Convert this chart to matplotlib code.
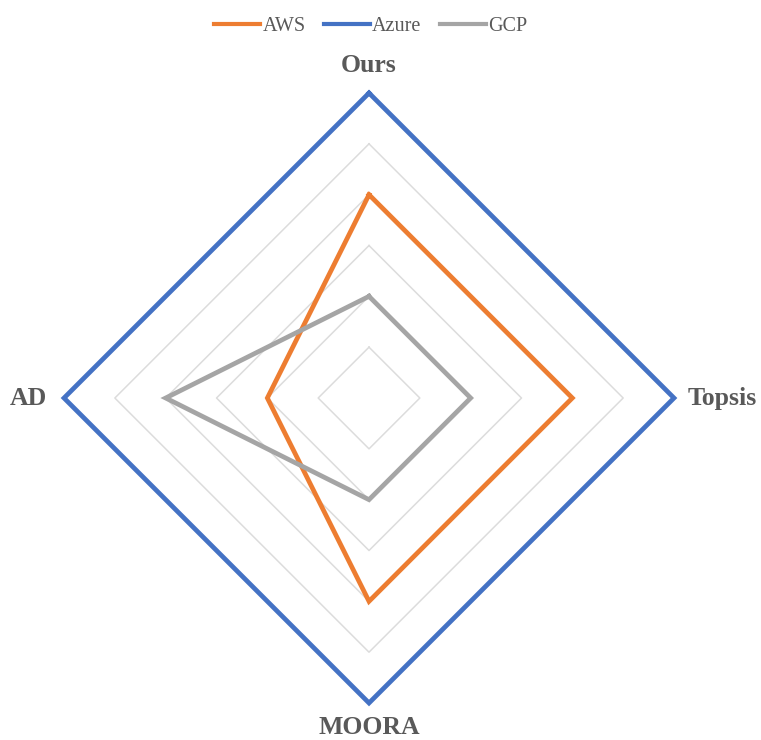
import numpy as np
import matplotlib
matplotlib.use('Agg')
import matplotlib.pyplot as plt

# Dados
categorias = ['Ours', 'Topsis', 'MOORA', 'AD']
aws = [2, 2, 2, 1]
azure = [3, 3, 3, 3]
gcp = [1, 1, 1, 2]
niveis = [0.5, 1.0, 1.5, 2.0, 2.5, 3.0]

plt.rcParams['font.family'] = ['Liberation Serif', 'DejaVu Serif']

n = len(categorias)
angulos = np.linspace(0, 2 * np.pi, n, endpoint=False)
ang_fech = np.concatenate([angulos, angulos[:1]])

fig = plt.figure(figsize=(7.61, 7.40), dpi=100)
ax = fig.add_axes([0.0841, 0.05, 0.8016, 0.8243], projection='polar')
ax.set_theta_offset(np.pi / 2)
ax.set_theta_direction(-1)
ax.set_ylim(0, 3)
ax.grid(False)
ax.set_xticks([])
ax.set_yticks([])
ax.spines['polar'].set_visible(False)
ax.patch.set_visible(False)

# grade em losango
for nv in niveis:
    ax.plot(ang_fech, [nv] * (n + 1), color='#dcdcdc', lw=1.1, zorder=1)

series = [('AWS', aws, '#ED7D31'), ('Azure', azure, '#4472C4'), ('GCP', gcp, '#A5A5A5')]
for nome, vals, cor in series:
    v = list(vals) + [vals[0]]
    ax.plot(ang_fech, v, color=cor, lw=3.4, label=nome, zorder=3,
            solid_joinstyle='miter', clip_on=False)

# rótulos dos eixos
offsets = [((0, 28), 'center', 'center'),
           ((14, 0), 'left', 'center'),
           ((0, -25), 'center', 'center'),
           ((-17, 0), 'right', 'center')]
for cat, ang, (off, ha, va) in zip(categorias, angulos, offsets):
    ax.annotate(cat, xy=(ang, 3), xytext=off, textcoords='offset pixels',
                ha=ha, va=va, fontsize=18.5, fontweight='bold', color='#595959',
                annotation_clip=False)

leg = fig.legend(loc='center', bbox_to_anchor=(0.487, 0.964), ncol=3, frameon=False,
                 fontsize=14.5, handlelength=2.3, handletextpad=0.1, columnspacing=0.9)
for t in leg.get_texts():
    t.set_color('#595959')
for h in leg.legend_handles:
    h.set_linewidth(3.0)

fig.savefig('out.png', dpi=100)
